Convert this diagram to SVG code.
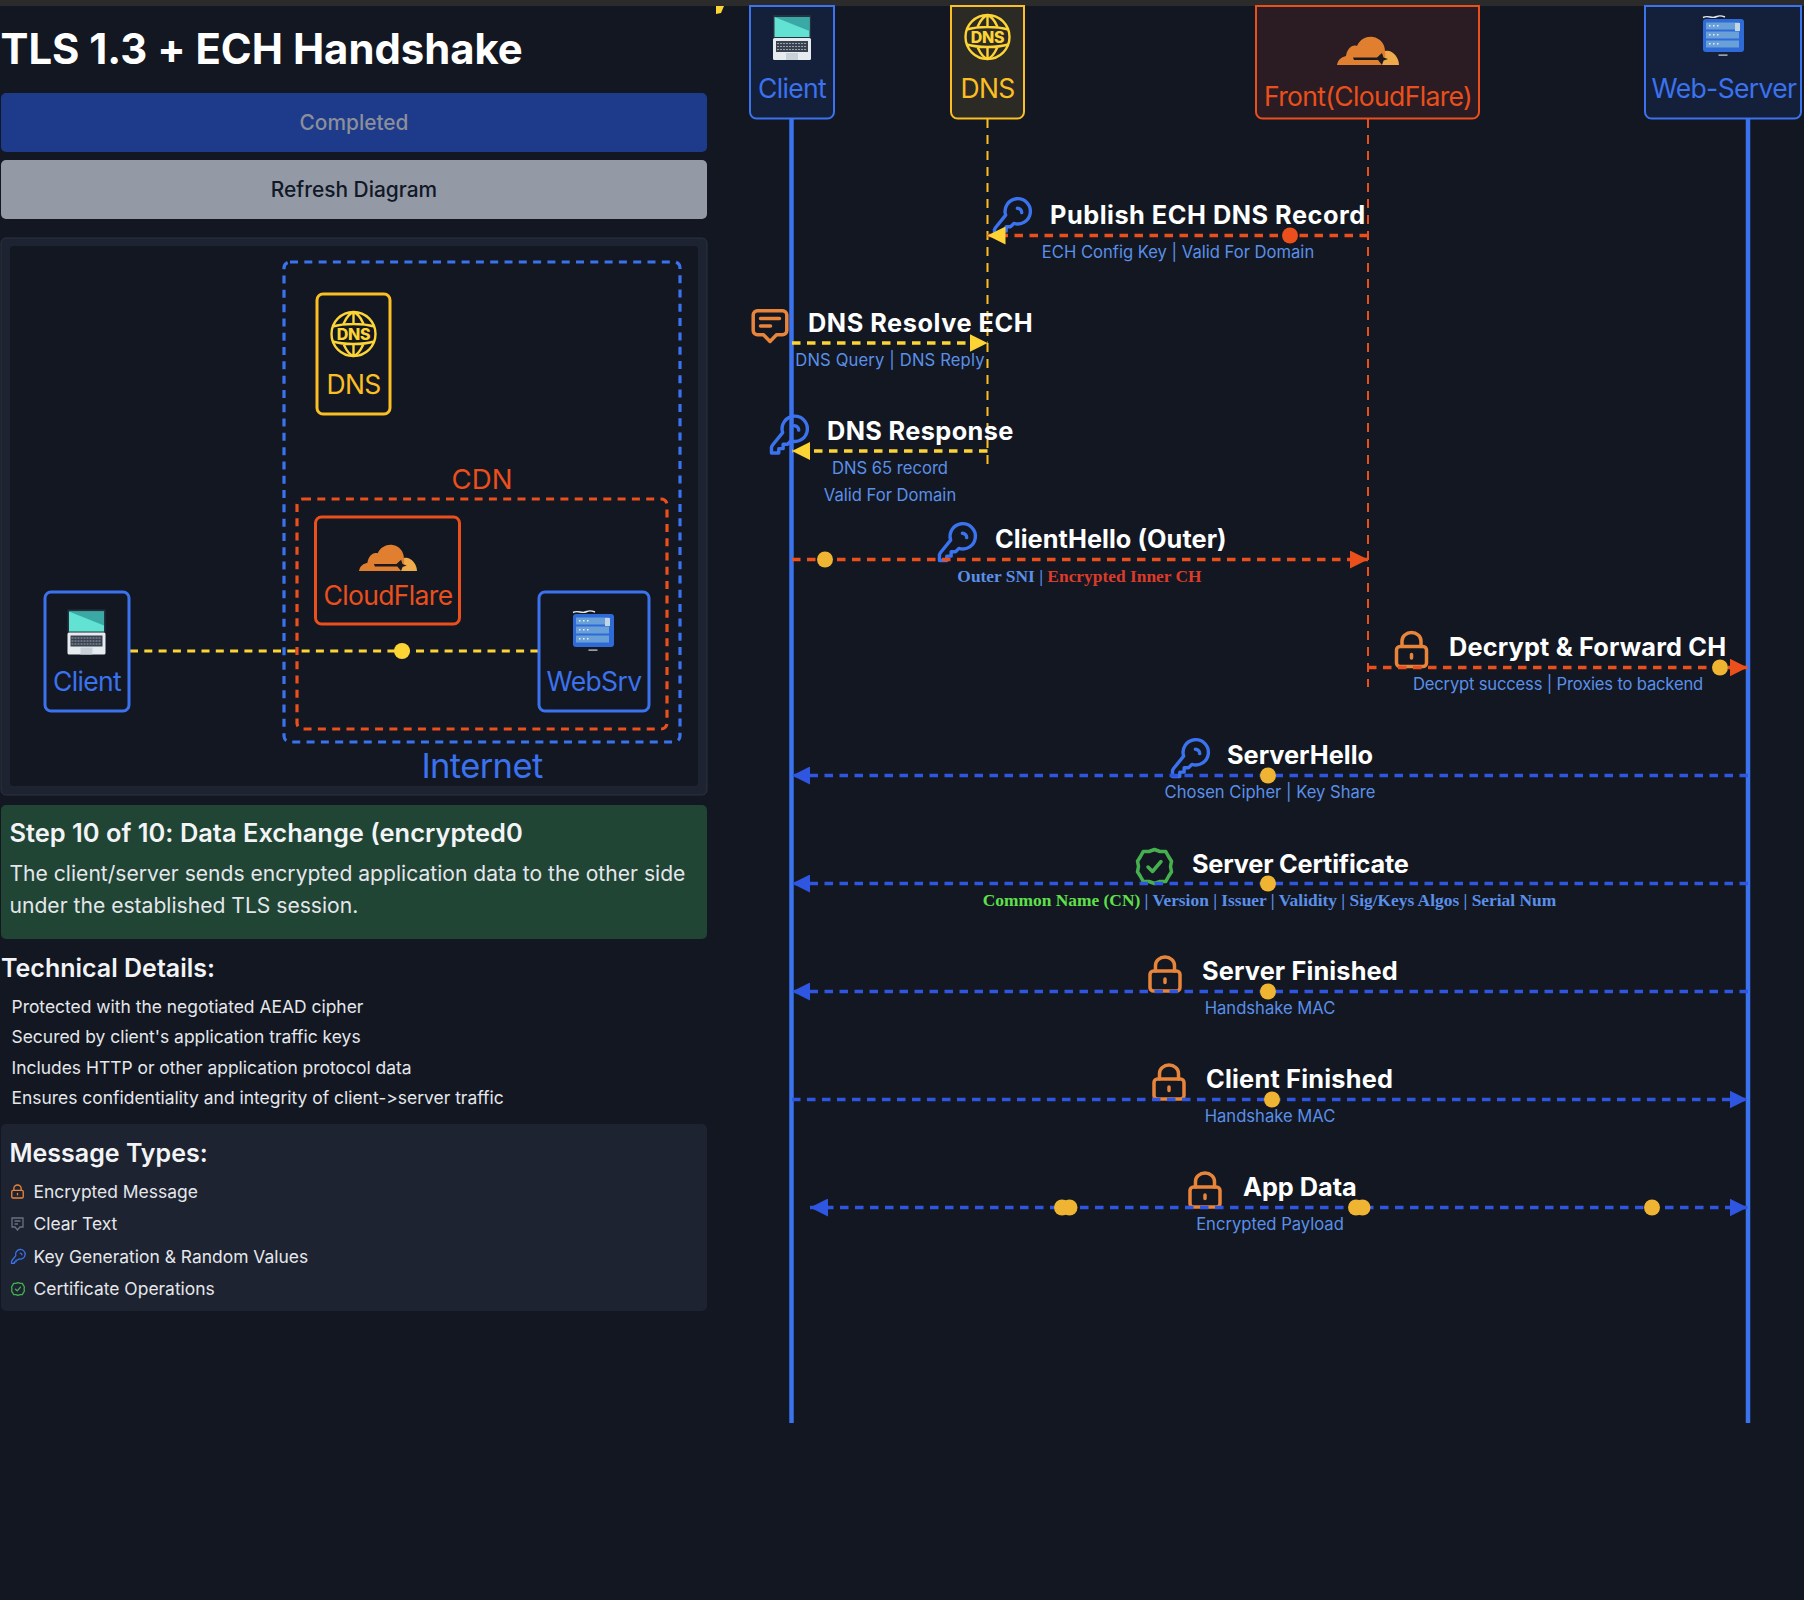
<svg xmlns="http://www.w3.org/2000/svg" width="1804" height="1600" viewBox="0 0 1804 1600">
<style>
text{font-family:Inter,"Liberation Sans",sans-serif;font-feature-settings:"calt" 0}
.tmsg{font-size:25.3px;font-weight:700;fill:#fff}
.sub{font-size:16.6px;fill:#5b8fe8;text-anchor:middle}
.ser{font-family:"Liberation Serif",serif;font-size:17.4px;font-weight:700;text-anchor:middle}
.li{font-size:17.45px;fill:#e5e7eb}
.lbl{font-size:26.5px;letter-spacing:-.65px;text-anchor:middle}
.blue{fill:#3b72ee}.org{fill:#ea4f1c}.yel{fill:#fbbf24}
.dot{fill:#f0b433}
.ln{fill:none;stroke-width:3.4;stroke-dasharray:8.5 6.5}
.b{stroke:#2f56e0}.o{stroke:#ea4f1c}.y{stroke:#fcd535}
.life{fill:none;stroke-width:2;stroke-dasharray:9 7}
.box{stroke-width:3;fill:none}
.head{stroke-width:2}
.ic{fill:none;stroke-width:3.5;stroke-linecap:round;stroke-linejoin:round}
</style>
<defs>
<marker id="ay" markerUnits="userSpaceOnUse" markerWidth="18" markerHeight="18" refX="18" refY="9" orient="auto-start-reverse"><path d="M0 0L18 9L0 18Z" fill="#fcd535"/></marker>
<marker id="ao" markerUnits="userSpaceOnUse" markerWidth="18" markerHeight="18" refX="18" refY="9" orient="auto-start-reverse"><path d="M0 0L18 9L0 18Z" fill="#ea4f1c"/></marker>
<marker id="ab" markerUnits="userSpaceOnUse" markerWidth="18" markerHeight="18" refX="18" refY="9" orient="auto-start-reverse"><path d="M0 0L18 9L0 18Z" fill="#2f56e0"/></marker>
<symbol id="key" viewBox="0 0 38 38" overflow="visible"><path class="ic" stroke="#3b72ee" d="M1.5 30.5V36.5H9V32H13.500V27.500H18L21.500 24A13 13 0 1 0 13 15.500L2.500 28.500Z"/><path class="ic" stroke="#3b72ee" d="M25 8.500A4.500 4.500 0 0 1 29.500 13"/></symbol>
<symbol id="lock" viewBox="0 0 34 37" overflow="visible"><rect class="ic" stroke="#e8853a" x="2" y="15.500" width="30" height="20" rx="3.500"/><path class="ic" stroke="#e8853a" d="M7.500 15.500V10A9.500 8.500 0 0 1 26.500 10V15.500M17 23.500V27"/></symbol>
<symbol id="msg" viewBox="0 0 37 34" overflow="visible"><path class="ic" stroke="#e8853a" d="M6 1.700H31A4.300 4.300 0 0 1 35.300 6V21.500A4.300 4.300 0 0 1 31 25.800H25L18.500 32.500L12 25.800H6A4.300 4.300 0 0 1 1.700 21.500V6A4.300 4.300 0 0 1 6 1.700ZM9 9.500H28M9 17H19"/></symbol>
<symbol id="badge" viewBox="0 0 37 37" overflow="visible"><path class="ic" stroke="#46b04f" d="M18.500 1.500L24 3.500L29.800 3.600L32.500 8.500L35.500 13.200L34.500 18.500L35.500 23.800L32.500 28.500L29.800 33.400L24 33.500L18.500 35.500L13 33.500L7.200 33.400L4.500 28.500L1.500 23.800L2.500 18.500L1.500 13.200L4.500 8.500L7.200 3.600L13 3.500Z"/><path class="ic" stroke="#46b04f" d="M12 19L16.500 23.500L25 13.500"/></symbol>
<symbol id="cloud" viewBox="0 0 62 28" overflow="visible"><path fill="#eeaa4b" d="M44 28L48 14C55 12 62 20 62 28Z"/><path fill="#e07f2f" d="M0 28C1 22 5 20 9 19C10 12 15 7 20 9C23 2 30 -1 36 0C43 1 48 7 48 14C49 18 48 24 44 28Z"/><path d="M16 20.500H40L45 16L46.500 20.500L51 22L46.500 23.500L45 28L41 23H17Z" fill="#1b1a20"/></symbol>
<symbol id="laptop" viewBox="0 0 38 45" overflow="visible"><rect width="38" height="23" rx="1" fill="#24323f"/><rect x="1.500" y="2" width="35" height="20" fill="#62e2d2"/><path d="M1.500 2H36.500V16Z" fill="#3aa8a4"/><rect y="23" width="38" height="22" rx="1.500" fill="#e6ebef"/><rect x="3" y="26" width="32" height="11" fill="#3a4250"/><path d="M4 28.500H34M4 31.500H34M4 34.500H34" stroke="#9aa3ad" stroke-width="1" stroke-dasharray="2 1"/><rect x="13" y="38" width="12" height="7" fill="#c9d1d8"/></symbol>
<symbol id="server" viewBox="0 0 41 37" overflow="visible"><rect x="0" y="4" width="41" height="33" rx="3" fill="#2f6bd6"/><path d="M0 2.500Q3 1 7 2T14 1.500T22 2" stroke="#e6ebef" stroke-width="1.400" fill="none"/><g fill="#6aa0d8"><rect x="3" y="7.500" width="33" height="7"/><rect x="3" y="16.500" width="33" height="7"/><rect x="3" y="25.500" width="33" height="7"/></g><g fill="#e6f0fa"><rect x="6" y="10" width="1.500" height="1.500"/><rect x="10" y="10" width="1.500" height="1.500"/><rect x="14" y="10" width="1.500" height="1.500"/><rect x="6" y="19" width="1.500" height="1.500"/><rect x="10" y="19" width="1.500" height="1.500"/><rect x="14" y="19" width="1.500" height="1.500"/><rect x="6" y="28" width="1.500" height="1.500"/><rect x="10" y="28" width="1.500" height="1.500"/><rect x="14" y="28" width="1.500" height="1.500"/></g><rect x="32" y="8" width="5" height="8" fill="#c3d4e4"/><rect x="15.500" y="39.500" width="9" height="1.200" fill="#cfd6dc"/></symbol>
<symbol id="globe" viewBox="-24 -24 48 48" overflow="visible"><g fill="none" stroke="#fcd535" stroke-width="2.400"><circle r="22"/><path d="M-21 -7.500C-12 -10 -6 -10 0 -10V-22M0 -10C6 -10 12 -10 21 -7.500M-21 7.500C-12 10 -6 10 0 10V22M0 10C6 10 12 10 21 7.500M0 -22C-6 -20 -8 -14 -10 -10M0 -22C6 -20 8 -14 10 -10M0 22C-6 20 -8 14 -10 10M0 22C6 20 8 14 10 10"/></g><text y="6" text-anchor="middle" font-size="16" font-weight="800" letter-spacing="-.3" fill="#fcd535">DNS</text></symbol>
</defs>
<rect width="1804" height="1600" fill="#121722"/>
<rect width="1804" height="6" fill="#2b2b2b"/>
<path d="M716 6H724L721 13L716 14Z" fill="#fcd535"/>

<g id="sidebar-header">
<text x="0.500" y="64" font-size="41.800" font-weight="700" fill="#fff">TLS 1.3 + ECH Handshake</text>
<rect x="1" y="93" width="706" height="59" rx="5" fill="#1e3a8a"/>
<text x="354" y="130" font-size="20.900" font-weight="500" fill="#8a8f9a" text-anchor="middle">Completed</text>
<rect x="1" y="160" width="706" height="59" rx="5" fill="#9399a5"/>
<text x="354" y="197" font-size="20.900" font-weight="500" fill="#111827" text-anchor="middle">Refresh Diagram</text>
</g>

<g id="overview-panel">
<rect x="1" y="238" width="706" height="557" rx="5" fill="#1d2330" stroke="#2c3340"/>
<rect x="10" y="246" width="688" height="540" rx="4" fill="#121722"/>
<rect x="284" y="262" width="396" height="480" rx="6" fill="none" stroke="#3b72ee" stroke-width="3.200" stroke-dasharray="8 6.300"/>
<text x="482" y="778" font-size="34.500" letter-spacing="-.6" fill="#3b72ee" text-anchor="middle">Internet</text>
<rect x="297" y="499" width="370" height="230" rx="6" fill="none" stroke="#ea4f1c" stroke-width="3.200" stroke-dasharray="8 6.300"/>
<text x="482" y="489" font-size="27.600" class="org" text-anchor="middle">CDN</text>
</g>

<g id="overview-link">
<path d="M130 651H538" fill="none" stroke="#fcd535" stroke-width="3.200" stroke-dasharray="8 6.300"/>
<ellipse cx="402" cy="651" rx="8" ry="8" fill="#fcd535"/>
</g>

<g id="ov-dns">
<rect class="box" x="317" y="294" width="73" height="120" rx="6" stroke="#fbbf24"/>
<use href="#globe" x="329.500" y="310" width="48" height="48"/>
<text class="lbl yel" x="353.500" y="394">DNS</text>
</g>
<g id="ov-cloudflare">
<rect class="box" x="315.500" y="517" width="144" height="107" rx="6" stroke="#ea4f1c"/>
<use href="#cloud" x="359" y="544.500" width="58" height="27"/>
<text class="lbl org" x="388" y="604.500">CloudFlare</text>
</g>
<g id="ov-client">
<rect class="box" x="45" y="592" width="84" height="119" rx="6" stroke="#3b72ee"/>
<use href="#laptop" x="67.500" y="609.500" width="38" height="45"/>
<text class="lbl blue" x="87" y="691">Client</text>
</g>
<g id="ov-websrv">
<rect class="box" x="539" y="592" width="110" height="119" rx="6" stroke="#3b72ee"/>
<use href="#server" x="573" y="610" width="41" height="37"/>
<text class="lbl blue" x="594" y="691" letter-spacing="-.85">WebSrv</text>
</g>

<g id="step-info">
<rect x="1" y="805" width="706" height="134" rx="5" fill="#204535"/>
<text x="9.500" y="842" font-size="25.450" font-weight="600" fill="#f3f4f6">Step 10 of 10: Data Exchange (encrypted0</text>
<text x="9.500" y="881" font-size="21.100" fill="#e5e7eb">The client/server sends encrypted application data to the other side</text>
<text x="9.500" y="913" font-size="21.100" fill="#e5e7eb">under the established TLS session.</text>
</g>

<g id="technical-details">
<text x="1" y="977" font-size="25" font-weight="600" fill="#f3f4f6">Technical Details:</text>
<text class="li" x="11.500" y="1013">Protected with the negotiated AEAD cipher</text>
<text class="li" x="11.500" y="1043">Secured by client's application traffic keys</text>
<text class="li" x="11.500" y="1074">Includes HTTP or other application protocol data</text>
<text class="li" x="11.500" y="1104">Ensures confidentiality and integrity of client-&gt;server traffic</text>
</g>

<g id="message-types">
<rect x="1" y="1124" width="706" height="187" rx="5" fill="#1d2330"/>
<text x="9.500" y="1162" font-size="25" font-weight="600" fill="#f3f4f6">Message Types:</text>
<use href="#lock" x="11" y="1184" width="13" height="15"/>
<text class="li" x="33.500" y="1198">Encrypted Message</text>
<g fill="none" stroke="#6b7280" stroke-width="1.300"><path d="M12 1218H23V1227H20L17.500 1230L15 1227H12ZM14.500 1221H20.500M14.500 1224H18"/></g>
<text class="li" x="33.500" y="1230">Clear Text</text>
<use href="#key" x="11" y="1250" width="14" height="14"/>
<text class="li" x="33.500" y="1263">Key Generation &amp; Random Values</text>
<use href="#badge" x="11" y="1282" width="14" height="14"/>
<text class="li" x="33.500" y="1295">Certificate Operations</text>
</g>

<g id="message-icons">
<use href="#key" x="993" y="200" width="37" height="37"/>
<use href="#msg" x="751.500" y="309" width="37" height="34"/>
<use href="#key" x="770" y="417.500" width="37" height="37"/>
<use href="#key" x="938" y="525" width="37" height="37"/>
<use href="#lock" x="1394.500" y="631" width="34" height="37"/>
<use href="#key" x="1171" y="741" width="37" height="37"/>
<use href="#badge" x="1136" y="848" width="37" height="37"/>
<use href="#lock" x="1148" y="955.500" width="34" height="37"/>
<use href="#lock" x="1152" y="1063.500" width="34" height="37"/>
<use href="#lock" x="1188" y="1171.500" width="34" height="37"/>
</g>

<g id="connectors">
<path d="M791.500 119V1423" fill="none" stroke="#3b72ee" stroke-width="4.500"/>
<path d="M1748 119V1423" fill="none" stroke="#3b72ee" stroke-width="4.500"/>
<path class="life" d="M987.500 119V470" stroke="#fbbf24"/>
<path class="life" d="M1368 119V687" stroke="#ea4f1c"/>
<path class="ln o" d="M1368 235.500H987.500" marker-end="url(#ay)"/>
<path class="ln y" d="M792 343H987.500" marker-end="url(#ay)"/>
<path class="ln y" d="M987.500 451H792" marker-end="url(#ay)"/>
<path class="ln o" d="M792 559.500H1368" marker-end="url(#ao)"/>
<path class="ln o" d="M1368 667.500H1747.500" marker-end="url(#ao)"/>
<path class="ln b" d="M1748 775.500H792" marker-end="url(#ab)"/>
<path class="ln b" d="M1748 883.500H792" marker-end="url(#ab)"/>
<path class="ln b" d="M1748 991.500H792" marker-end="url(#ab)"/>
<path class="ln b" d="M792 1099.500H1747.500" marker-end="url(#ab)"/>
<path class="ln b" d="M810 1207.500H1747.500" marker-start="url(#ab)" marker-end="url(#ab)"/>
<ellipse cx="1290" cy="235.500" rx="8" ry="8" fill="#ea4f1c"/>
<circle class="dot" cx="825" cy="559.500" r="8"/>
<circle class="dot" cx="1720" cy="667.500" r="8"/>
<circle class="dot" cx="1268" cy="775.500" r="8"/>
<circle class="dot" cx="1268" cy="883.500" r="8"/>
<circle class="dot" cx="1268" cy="991.500" r="8"/>
<circle class="dot" cx="1272" cy="1099.500" r="8"/>
<circle class="dot" cx="1062" cy="1207.500" r="8"/>
<circle class="dot" cx="1069.500" cy="1207.500" r="8"/>
<circle class="dot" cx="1356" cy="1207.500" r="8"/>
<circle class="dot" cx="1362.500" cy="1207.500" r="8"/>
<circle class="dot" cx="1652" cy="1207.500" r="8"/>
</g>

<g id="seq-client">
<path class="head" d="M750 6H834V112A6.500 6.500 0 0 1 827.500 118.500H756.500A6.500 6.500 0 0 1 750 112Z" fill="#14203a" stroke="#3b72ee"/>
<use href="#laptop" x="773" y="15" width="38" height="45"/>
<text class="lbl blue" x="792" y="97.500">Client</text>
</g>
<g id="seq-dns">
<path class="head" d="M951 6H1024V112A6.500 6.500 0 0 1 1017.500 118.500H957.500A6.500 6.500 0 0 1 951 112Z" fill="#2b2a25" stroke="#fbbf24"/>
<use href="#globe" x="963.500" y="13" width="48" height="48"/>
<text class="lbl yel" x="987.500" y="97.500">DNS</text>
</g>
<g id="seq-front">
<path class="head" d="M1256 6H1479V112A6.500 6.500 0 0 1 1472.500 118.500H1262.500A6.500 6.500 0 0 1 1256 112Z" fill="#2a1c22" stroke="#ea4f1c"/>
<use href="#cloud" x="1337" y="37" width="62" height="28"/>
<text class="lbl org" x="1368" y="106">Front(CloudFlare)</text>
</g>
<g id="seq-webserver">
<path class="head" d="M1645 6H1801V112A6.500 6.500 0 0 1 1794.500 118.500H1651.500A6.500 6.500 0 0 1 1645 112Z" fill="#14203a" stroke="#3b72ee"/>
<use href="#server" x="1703" y="15" width="41" height="37"/>
<text class="lbl blue" x="1724" y="97.500" letter-spacing="-1">Web-Server</text>
</g>

<g id="msg-publish">
<text class="tmsg" x="1050" y="224" letter-spacing=".52">Publish ECH DNS Record</text>
<text class="sub" x="1178" y="257.500">ECH Config Key | Valid For Domain</text>
</g>
<g id="msg-resolve">
<text class="tmsg" x="808" y="332" letter-spacing=".54">DNS Resolve ECH</text>
<text class="sub" x="890" y="366" letter-spacing=".15">DNS Query | DNS Reply</text>
</g>
<g id="msg-response">
<text class="tmsg" x="827" y="440" letter-spacing=".38">DNS Response</text>
<text class="sub" x="890" y="474">DNS 65 record</text>
<text class="sub" x="890" y="500.500">Valid For Domain</text>
</g>
<g id="msg-clienthello">
<text class="tmsg" x="995" y="548" letter-spacing=".06">ClientHello (Outer)</text>
<text class="ser" x="1079.500" y="582" fill="#5b8fe8">Outer SNI | <tspan fill="#dc3a2a">Encrypted Inner CH</tspan></text>
</g>
<g id="msg-decrypt">
<text class="tmsg" x="1449" y="656" letter-spacing=".17">Decrypt &amp; Forward CH</text>
<text class="sub" x="1558" y="690" letter-spacing="-.18">Decrypt success | Proxies to backend</text>
</g>
<g id="msg-serverhello">
<text class="tmsg" x="1227" y="764">ServerHello</text>
<text class="sub" x="1270" y="798">Chosen Cipher | Key Share</text>
</g>
<g id="msg-certificate">
<text class="tmsg" x="1192" y="873" letter-spacing="-.19">Server Certificate</text>
<text class="ser" x="1269.500" y="906" fill="#5b8fe8"><tspan fill="#5fe04a">Common Name (CN)</tspan> | Version | Issuer | Validity | Sig/Keys Algos | Serial Num</text>
</g>
<g id="msg-serverfinished">
<text class="tmsg" x="1202" y="980" letter-spacing=".15">Server Finished</text>
<text class="sub" x="1270" y="1014">Handshake MAC</text>
</g>
<g id="msg-clientfinished">
<text class="tmsg" x="1206" y="1088" letter-spacing=".23">Client Finished</text>
<text class="sub" x="1270" y="1122">Handshake MAC</text>
</g>
<g id="msg-appdata">
<text class="tmsg" x="1243" y="1196">App Data</text>
<text class="sub" x="1270" y="1230">Encrypted Payload</text>
</g>
</svg>
